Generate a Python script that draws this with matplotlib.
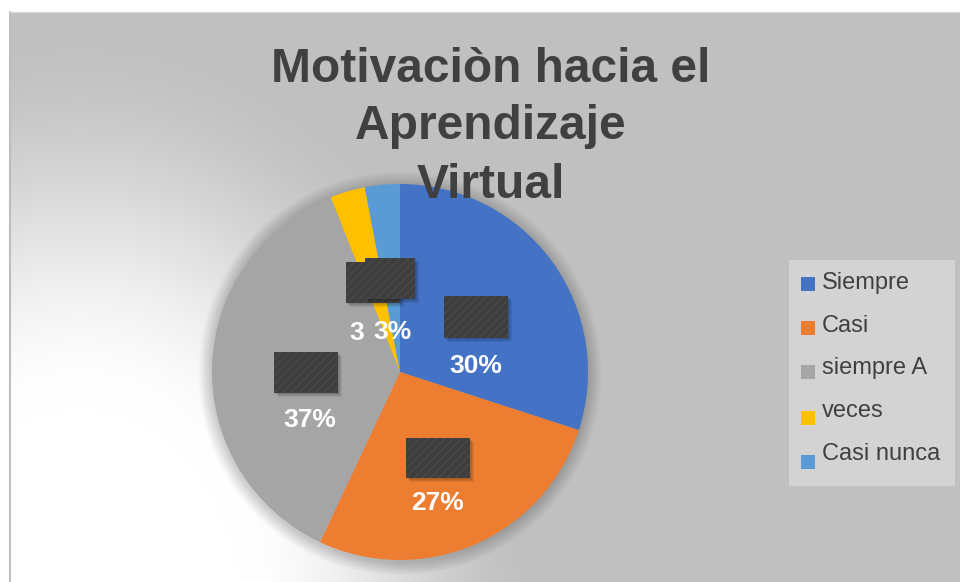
import numpy as np
import matplotlib
matplotlib.use("Agg")
import matplotlib.pyplot as plt
from matplotlib.patches import Rectangle, Circle

# ---- data ----
categories = ["Siempre", "Casi", "siempre A", "veces", "Casi nunca"]
values = [30, 27, 37, 3, 3]
colors = ["#4472C4", "#ED7D31", "#A5A5A5", "#FFC000", "#5B9BD5"]
title = "Motivaciòn hacia el\nAprendizaje\nVirtual"

W, H = 960, 582
fig = plt.figure(figsize=(W / 100, H / 100), dpi=100)
fig.patch.set_facecolor("white")
FONT = ["Liberation Sans", "DejaVu Sans"]


def fx(x):
    return x / W


def fy(y):
    return 1 - y / H


# ---- background with radial light gradient ----
bx0, by0, bx1, by1 = 10, 12, 960, 582
ax_bg = fig.add_axes([fx(bx0), fy(by1), fx(bx1 - bx0), (by1 - by0) / H])
xs = np.arange(bx0, bx1)
ys = np.arange(by0, by1)
X, Y = np.meshgrid(xs, ys)
d = np.hypot((X - 80) * 1.3, (Y - 620))
s = np.clip((d - 210) / 390, 0, 1)
t = 3 * s ** 2 - 2 * s ** 3
g = (255 - (255 - 192) * t) / 255
img = np.dstack([g, g, g])
ax_bg.imshow(img, extent=(0, 1, 0, 1), aspect="auto", interpolation="bilinear")
ax_bg.set_xlim(0, 1)
ax_bg.set_ylim(0, 1)
ax_bg.axis("off")
fig.add_artist(plt.Line2D([fx(10), fx(10)], [0, fy(12)], color="#bdbdbd", lw=1.5))
fig.add_artist(plt.Line2D([fx(10), 1], [fy(12), fy(12)], color="#d9d9d9", lw=1))

# ---- pie ----
cx, cy, r = 400, 372, 188
k = 1.15
side = 2 * r * k
ax = fig.add_axes([fx(cx - side / 2), fy(cy + side / 2), side / W, side / H])
wedges, _ = ax.pie(values, colors=colors, startangle=90, counterclock=False,
                   radius=1, wedgeprops=dict(linewidth=0))
ax.set_xlim(-k, k)
ax.set_ylim(-k, k)
ax.axis("off")
for i in range(12):
    ax.add_patch(Circle((0.0, -0.008), 1 + 0.006 * (i + 1), color="black",
                        alpha=0.016, lw=0, zorder=0))
for w in wedges:
    w.set_zorder(2)

# ---- dark label boxes ----
boxes = [(444, 296, 508, 338), (406, 438, 470, 478), (274, 352, 338, 393),
         (346, 262, 400, 303), (365, 258, 415, 299)]
plt.rcParams["hatch.linewidth"] = 1.0
for (x0, y0, x1, y1) in boxes:
    for j in range(4):
        sh = Rectangle((fx(x0 + 1 + j), fy(y1 + 1 + j)), fx(x1 - x0), (y1 - y0) / H,
                       transform=fig.transFigure, facecolor="black", alpha=0.07, lw=0)
        fig.add_artist(sh)
    rc = Rectangle((fx(x0), fy(y1)), fx(x1 - x0), (y1 - y0) / H,
                   transform=fig.transFigure, facecolor="#3e3e3e",
                   edgecolor="#494949", hatch="////", lw=0)
    fig.add_artist(rc)

# ---- data labels ----
label_pos = [(476, 366), (438, 503), (310, 420), (357, 333), (392, 332)]
for i, (v, (lx, ly)) in enumerate(zip(values, label_pos)):
    txt = f"{v}%" if i != 3 else f"{v}"
    fig.text(fx(lx), fy(ly), txt, ha="center", va="center", color="white",
             fontsize=19, fontweight="bold", family=FONT)

# ---- title ----
title_lines = title.split("\n")
baselines = [82, 139, 198]
for line, b in zip(title_lines, baselines):
    fig.text(fx(491), fy(b), line, ha="center", va="baseline", color="#404040",
             fontsize=34.5, fontweight="bold", family=FONT)

# ---- legend ----
fig.add_artist(Rectangle((fx(789), fy(486)), fx(955 - 789), (486 - 260) / H,
                         transform=fig.transFigure, facecolor="#d3d3d3", lw=0))
text_baselines = [289, 332, 374, 417, 460]
marker_tops = [277, 321, 365, 411, 455]
for cat, col, b, mt in zip(categories, colors, text_baselines, marker_tops):
    fig.add_artist(Rectangle((fx(801), fy(mt + 14)), fx(14), 14 / H,
                             transform=fig.transFigure, facecolor=col, lw=0))
    fig.text(fx(822), fy(b), cat, ha="left", va="baseline", color="#404040",
             fontsize=17, family=FONT)

fig.savefig("out.png", dpi=100)
